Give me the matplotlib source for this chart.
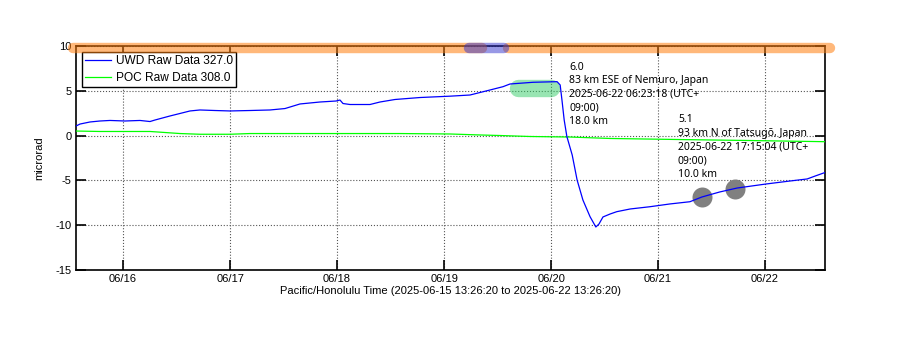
import datetime as dt
import matplotlib
matplotlib.use("Agg")
import matplotlib.pyplot as plt
import matplotlib.dates as mdates

start = dt.datetime(2025, 6, 15, 13, 26, 20)
end = dt.datetime(2025, 6, 22, 13, 26, 20)

# hours since start, values in microrad
uwd_hours = [0, 0.9, 3.14, 5.38, 7.63, 10.99, 14.36, 16.6, 17.72, 21.08, 23.33, 25.57,
             27.81, 31.18, 34.54, 39.03, 43.51, 46.88, 50.24, 54.73, 58.32, 59.21, 59.89,
             61.46, 65.94, 68.19, 71.55, 77.16, 83.89, 88.37, 92.86, 95.78, 97.35, 102.5,
             107.9, 108.6, 109.0, 109.5, 110.1, 111.3, 112.4, 113.7, 115.3, 116.6, 117.3,
             118.2, 119.8, 121.3, 124.3, 128.7, 133.2, 137.7, 140.4, 144.4, 148.3, 154.8,
             160.1, 164.0, 165.8, 168.0]
uwd_vals = [1.07, 1.29, 1.52, 1.63, 1.69, 1.63, 1.69, 1.57, 1.74, 2.19, 2.47, 2.75,
            2.86, 2.80, 2.75, 2.80, 2.86, 3.02, 3.53, 3.75, 3.86, 3.97, 3.58,
            3.47, 3.47, 3.75, 4.03, 4.25, 4.40, 4.53, 5.09, 5.46, 5.76, 5.95,
            6.02, 5.65, 3.97, 1.74, -0.1, -2.17, -4.96, -7.19, -9.05, -10.2, -9.87,
            -9.08, -8.75, -8.49, -8.19, -7.94, -7.63, -7.38, -6.85, -6.29, -5.85, -5.40,
            -5.07, -4.84, -4.51, -4.12]

poc_hours = [0, 5.38, 16.6, 23.33, 27.81, 34.54, 39.03, 50.24, 72.67, 83.89, 90.62,
             95.11, 101.8, 110.8, 119.8, 135.5, 151.2, 168.0]
poc_vals = [0.51, 0.46, 0.46, 0.23, 0.15, 0.15, 0.23, 0.23, 0.23, 0.18, 0.07,
            0.01, -0.10, -0.16, -0.32, -0.44, -0.55, -0.68]

# flag bands along the top (hours since start)
orange_spans = [(-0.6, 91.0), (97.0, 169.2)]
blue_span = (88.2, 95.9)
band_val = 9.75
highlight_span = (99.1, 106.5)
highlight_val = 5.31

quake_hours = [140.3, 147.8]
quake_vals = [-6.87, -5.93]
quake_labels = ["6.0\n83 km ESE of Nemuro, Japan\n2025-06-22 06:23:18 (UTC+\n09:00)\n18.0 km",
                "5.1\n93 km N of Tatsug\u014d, Japan\n2025-06-22 17:15:04 (UTC+\n09:00)\n10.0 km"]
label_hours = [110.6, 135.0]
label_vals = [8.25, 2.4]


def t(h):
    return start + dt.timedelta(hours=h)


plt.rcParams['font.family'] = ['Liberation Sans', 'DejaVu Sans']
plt.rcParams['axes.unicode_minus'] = False

fig = plt.figure(figsize=(9, 3.52), dpi=100)
ax = fig.add_axes([76 / 900, 82 / 352, 749 / 900, 224 / 352])

ax.plot([t(h) for h in uwd_hours], uwd_vals, color='blue', linewidth=0.9,
        label='UWD Raw Data 327.0', zorder=4)
ax.plot([t(h) for h in poc_hours], poc_vals, color='lime', linewidth=0.9,
        label='POC Raw Data 308.0', zorder=3)

for a, b in orange_spans:
    ax.plot([t(a), t(b)], [band_val, band_val], color='#ff7f0e', alpha=0.55, linewidth=7.5,
            solid_capstyle='round', clip_on=False, zorder=6)
ax.plot([t(blue_span[0]), t(blue_span[1])], [band_val, band_val], color='#3333cc', alpha=0.5,
        linewidth=7.5, solid_capstyle='round', clip_on=False, zorder=6)
ax.plot([t(highlight_span[0]), t(highlight_span[1])], [highlight_val, highlight_val],
        color='#33cc66', alpha=0.5, linewidth=12.5, solid_capstyle='round', zorder=2)

ax.plot([t(h) for h in quake_hours], quake_vals, linestyle='none', marker='o',
        markersize=14.4, color='gray', markeredgewidth=0, zorder=3.5)
for h, v, s in zip(label_hours, label_vals, quake_labels):
    ax.text(t(h), v, s, fontsize=7.5, family=['Noto Sans', 'DejaVu Sans'],
            va='top', ha='left', linespacing=1.33, zorder=5)

ax.set_xlim(start, end)
ax.set_ylim(-15, 10)
ax.set_yticks([-15, -10, -5, 0, 5, 10])
ax.xaxis.set_major_locator(mdates.DayLocator())
ax.xaxis.set_major_formatter(mdates.DateFormatter('%m/%d'))
ax.grid(True, linestyle=':', color='#555555', linewidth=0.8)
ax.tick_params(direction='in', length=7, width=1.2, labelsize=8, top=True, right=True, pad=3)
for sp in ax.spines.values():
    sp.set_linewidth(1.2)

ax.set_ylabel('microrad', fontsize=8, labelpad=8)
ax.set_xlabel('Pacific/Honolulu Time (2025-06-15 13:26:20 to 2025-06-22 13:26:20)',
              fontsize=8, labelpad=1)

leg = ax.legend(loc='upper left', bbox_to_anchor=(6 / 749, 1 - 6 / 224), borderaxespad=0,
                fontsize=8.6, fancybox=False, framealpha=1, edgecolor='black',
                handlelength=2.2, handletextpad=0.42, borderpad=0.25, labelspacing=0.45)
leg.get_frame().set_linewidth(1.0)

fig.savefig('out.png', dpi=100)
